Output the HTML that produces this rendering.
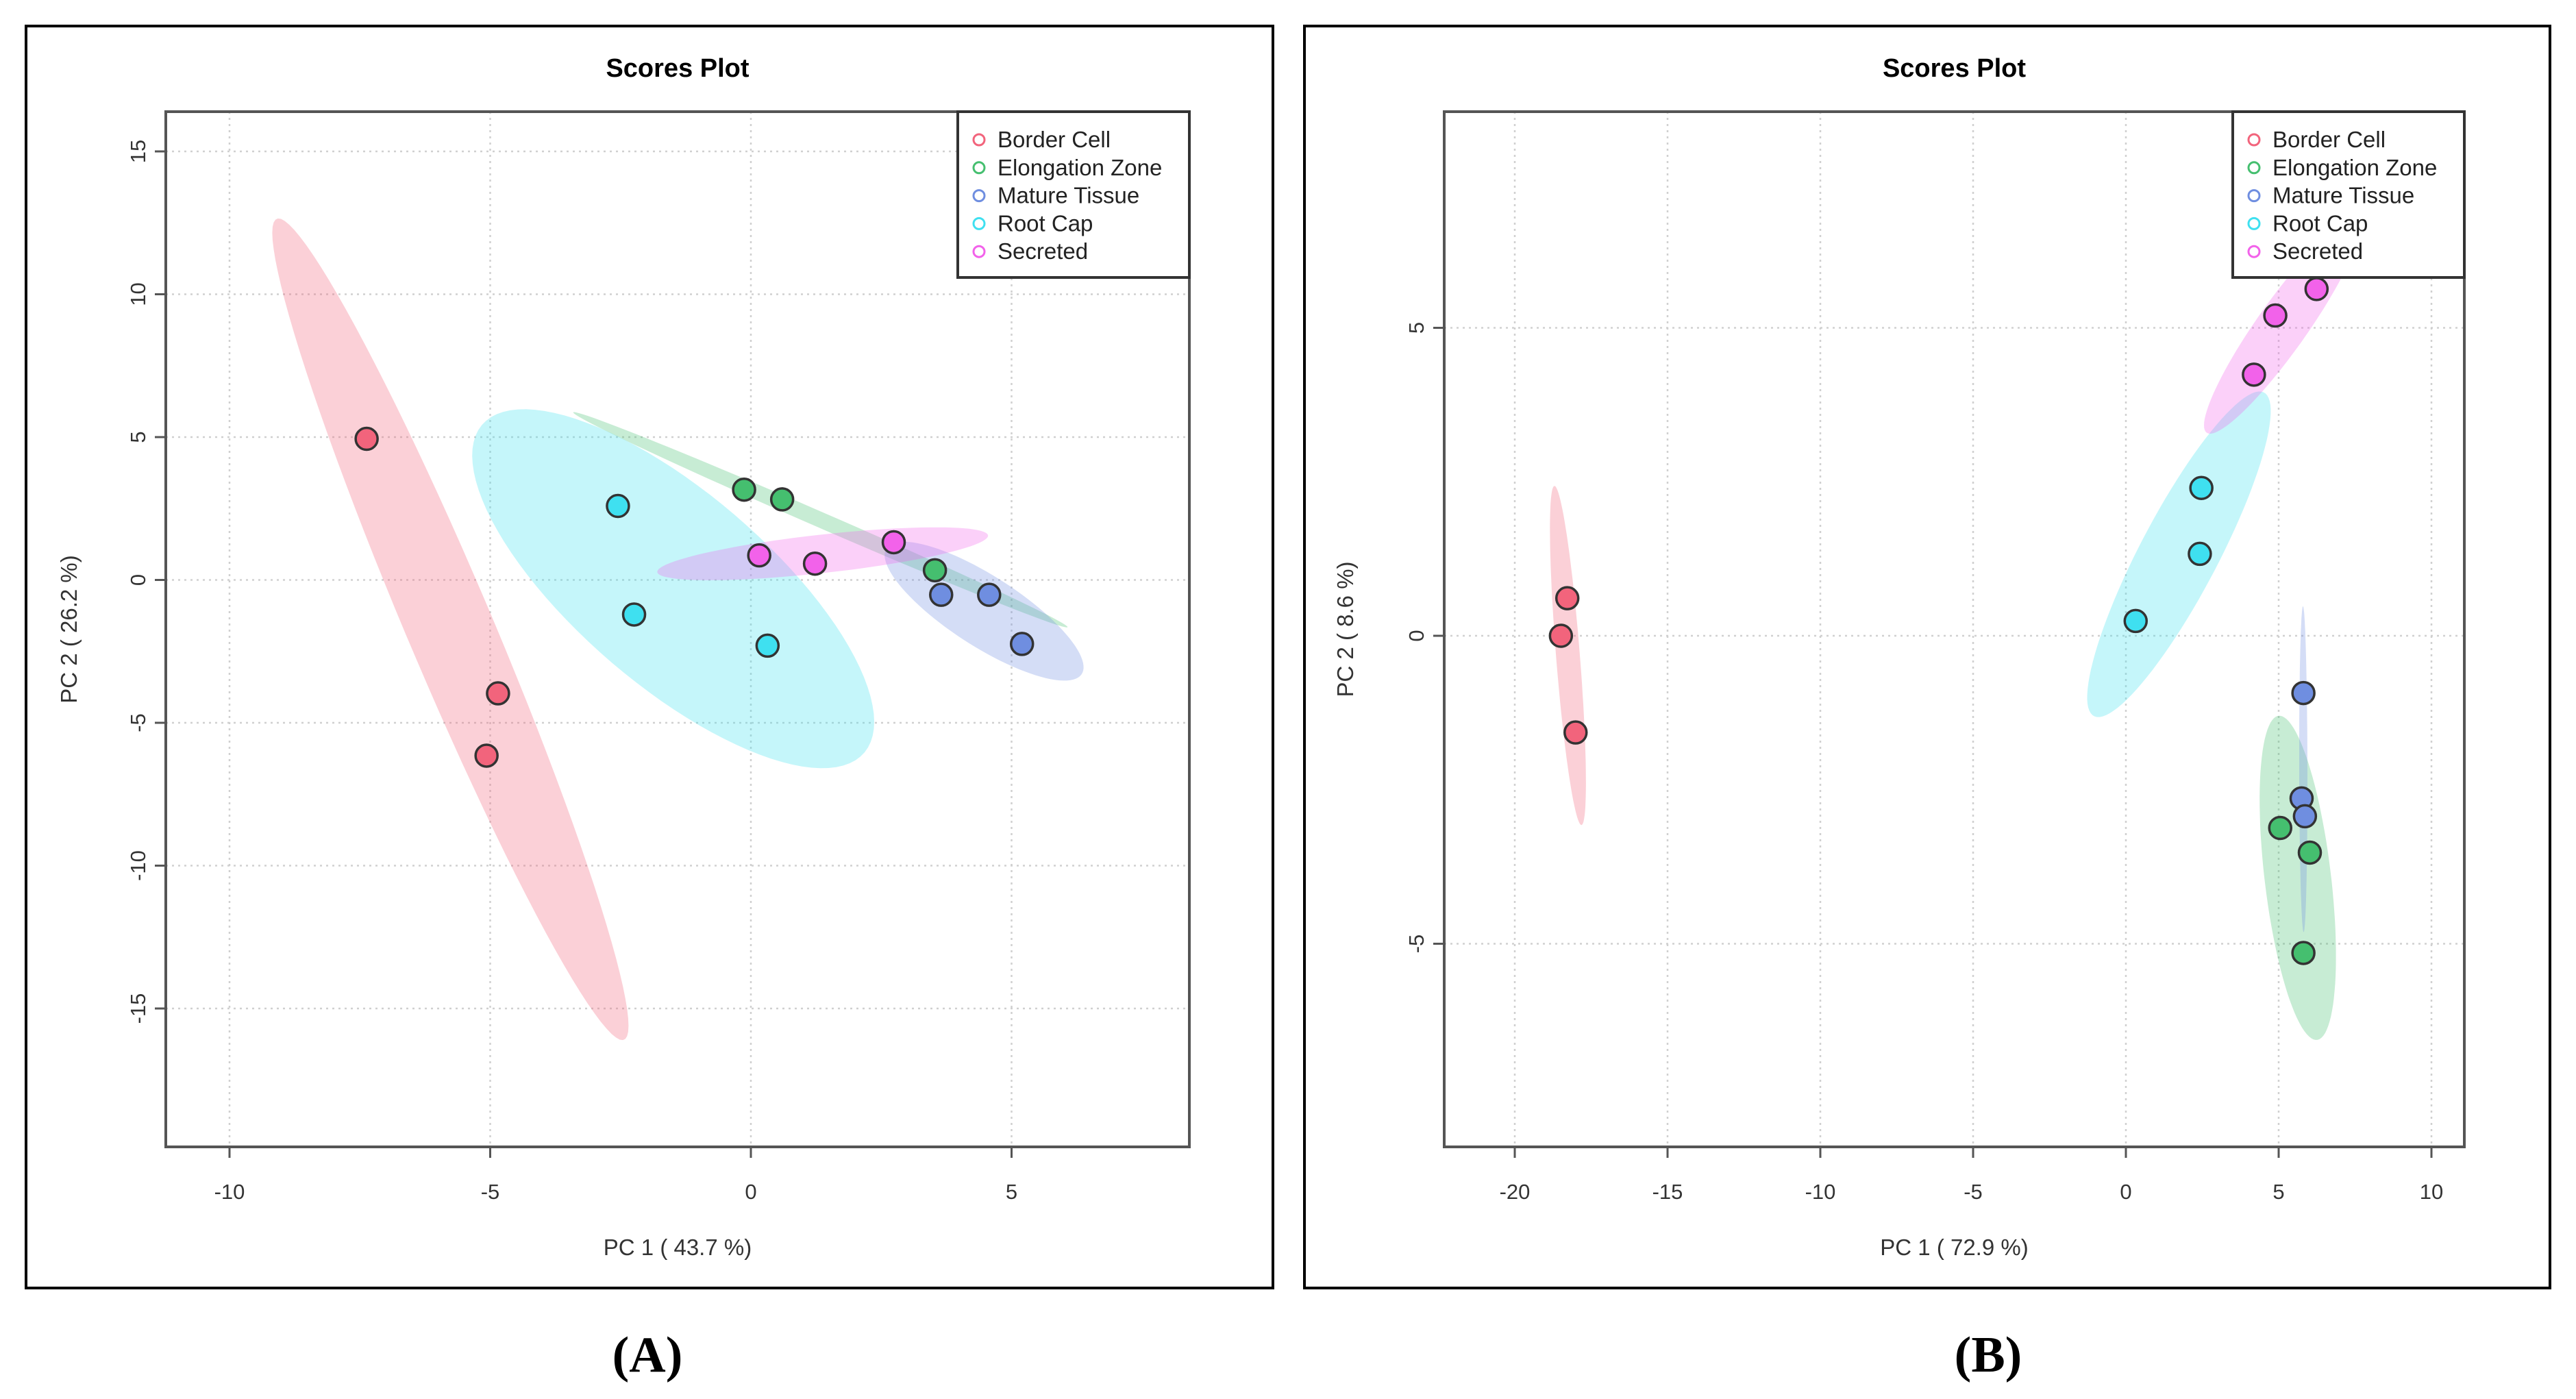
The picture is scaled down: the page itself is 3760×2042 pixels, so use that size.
<!DOCTYPE html>
<html><head><meta charset="utf-8"><style>
html,body{margin:0;padding:0;background:#fff}
svg{display:block}
text{font-family:"Liberation Sans",sans-serif}
text.serif{font-family:"Liberation Serif",serif}
</style></head><body>
<svg id="s" width="3760" height="2042" viewBox="0 0 3760 2042" xmlns="http://www.w3.org/2000/svg"></svg>
<script>
const groups = ["Border Cell","Elongation Zone","Mature Tissue","Root Cap","Secreted"];
const colors = ["#F2647C","#45BF6F","#6F8EE0","#3FE0F0","#F262EA"];
const xTicksA = [-10,-5,0,5];
const yTicksA = [-15,-10,-5,0,5,10,15];
const xTicksB = [-20,-15,-10,-5,0,5,10];
const yTicksB = [-5,0,5];
const ptsAx = [[-7.37,-4.85,-5.07],[-0.13,0.6,3.53],[3.65,4.57,5.2],[-2.55,-2.24,0.32],[0.16,1.23,2.74]];
const ptsAy = [[4.94,-3.97,-6.15],[3.16,2.82,0.34],[-0.52,-0.52,-2.24],[2.59,-1.21,-2.3],[0.86,0.57,1.32]];
const ptsBx = [[-18.28,-18.49,-18.01],[5.05,6.02,5.81],[5.81,5.75,5.86],[0.32,2.42,2.47],[4.19,4.89,6.24]];
const ptsBy = [[0.61,0,-1.57],[-3.12,-3.52,-5.15],[-0.93,-2.64,-2.93],[0.24,1.33,2.4],[4.24,5.2,5.63]];

const NS="http://www.w3.org/2000/svg";
const svg=document.getElementById('s');
function mk(tag,attrs,parent,txt){const e=document.createElementNS(NS,tag);for(const k in attrs)e.setAttribute(k,attrs[k]);if(txt!==undefined)e.textContent=txt;(parent||svg).appendChild(e);return e;}

function panel(cfg){
  const g=mk('g',{});
  
  
  const ob=mk('rect',{x:cfg.ox,y:38,width:cfg.ow,height:1842,fill:'none',stroke:'#000','stroke-width':4},g);
  
  const L=cfg.L,R=cfg.R,T=163,B=1674;
  const sx=v=>cfg.x0+v*cfg.kx, sy=v=>cfg.y0-v*cfg.ky;
  const t=mk('text',{x:(L+R)/2,y:112,'text-anchor':'middle','font-size':38,'font-weight':'bold'},g,'Scores Plot');
  
  const clipId='c'+cfg.name;
  const cp=mk('clipPath',{id:clipId},g);mk('rect',{x:L,y:T,width:R-L,height:B-T},cp);
  const grid=mk('g',{stroke:'#d0d0d0','stroke-width':2.5,'stroke-dasharray':'3,6'},g);
  
  cfg.xt.forEach(v=>mk('line',{x1:sx(v),x2:sx(v),y1:T,y2:B},grid));
  cfg.yt.forEach(v=>mk('line',{x1:L,x2:R,y1:sy(v),y2:sy(v)},grid));
  const eg=mk('g',{'clip-path':'url(#'+clipId+')'},g);
  const r=Math.sqrt(5.991);
  cfg.px.forEach((xs,i)=>{
    const ys=cfg.py[i],n=xs.length;
    const mx=xs.reduce((a,b)=>a+b)/n,my=ys.reduce((a,b)=>a+b)/n;
    let sxx=0,syy=0,sxy=0;
    for(let j=0;j<n;j++){sxx+=(xs[j]-mx)**2;syy+=(ys[j]-my)**2;sxy+=(xs[j]-mx)*(ys[j]-my);}
    sxx/=(n-1);syy/=(n-1);sxy/=(n-1);
    const tr=sxx+syy,det=sxx*syy-sxy*sxy,d=Math.sqrt(Math.max(tr*tr/4-det,0));
    const l1=tr/2+d,l2=Math.max(tr/2-d,0);
    const ang=Math.atan2(l1-sxx,sxy||1e-12);
    const a1=Math.sqrt(l1)*r,a2=Math.sqrt(l2)*r;
    let dstr='';
    for(let k=0;k<=100;k++){const th=k/100*2*Math.PI;
      const ex=a1*Math.cos(th),ey=a2*Math.sin(th);
      const X=mx+ex*Math.cos(ang)-ey*Math.sin(ang),Y=my+ex*Math.sin(ang)+ey*Math.cos(ang);
      dstr+=(k?'L':'M')+sx(X).toFixed(1)+','+sy(Y).toFixed(1);}
    const p=mk('path',{d:dstr+'Z',fill:colors[i],'fill-opacity':0.3,stroke:'none'},eg);
    
    
  });
  cfg.px.forEach((xs,i)=>xs.forEach((x,j)=>{
    const c=mk('circle',{cx:sx(x),cy:sy(cfg.py[i][j]),r:16,fill:colors[i],stroke:'#333','stroke-width':3.5},g);
    
    
  }));
  const pb=mk('rect',{x:L,y:T,width:R-L,height:B-T,fill:'none',stroke:'#555','stroke-width':4},g);
  
  const xa=mk('g',{},g);
  cfg.xt.forEach(v=>{mk('line',{x1:sx(v),x2:sx(v),y1:B,y2:B+16,stroke:'#555','stroke-width':3},xa);
    const tl=mk('text',{x:sx(v),y:1750,'text-anchor':'middle','font-size':31,fill:'#333'},xa,String(v));
    });
  const xt=mk('text',{x:(L+R)/2,y:1832,'text-anchor':'middle','font-size':33,fill:'#333'},g,cfg.xl);
  
  const ya=mk('g',{},g);
  cfg.yt.forEach(v=>{mk('line',{x1:L,x2:L-16,y1:sy(v),y2:sy(v),stroke:'#555','stroke-width':3},ya);
    const tl=mk('text',{x:0,y:0,'text-anchor':'middle','font-size':31,fill:'#333',transform:`translate(${L-30},${sy(v)}) rotate(-90)`},ya,String(v));
    });
  const yt=mk('text',{x:0,y:0,'text-anchor':'middle','font-size':33,fill:'#333',transform:`translate(${cfg.ylx},${(T+B)/2}) rotate(-90)`},g,cfg.yl);
  
  const lg=mk('g',{},g);
  mk('rect',{x:R-338,y:T,width:338,height:242,fill:'#fff',stroke:'#333','stroke-width':4},lg);
  groups.forEach((n,i)=>{const yy=204+i*40.8;
    const e=mk('g',{},lg);
    mk('circle',{cx:R-307,cy:yy,r:8,fill:'none',stroke:colors[i],'stroke-width':3},e);
    mk('text',{x:R-280,y:yy+11,'font-size':33,fill:'#222'},e,n);});
  const pl=mk('text',{x:cfg.lab,y:2002,'text-anchor':'middle','font-size':74,'font-weight':'bold','class':'serif'},svg,cfg.label);
  
}
panel({name:'panel-a',ox:38,ow:1820,L:242,R:1736,x0:1096,kx:76.1,y0:846.5,ky:41.7,xt:xTicksA,yt:yTicksA,px:ptsAx,py:ptsAy,xl:'PC 1 ( 43.7 %)',yl:'PC 2 ( 26.2 %)',ylx:112,label:'(A)',lab:945});
panel({name:'panel-b',ox:1904,ow:1818,L:2108,R:3597,x0:3103,kx:44.6,y0:928,ky:89.9,xt:xTicksB,yt:yTicksB,px:ptsBx,py:ptsBy,xl:'PC 1 ( 72.9 %)',yl:'PC 2 ( 8.6 %)',ylx:1975,label:'(B)',lab:2902});
</script>
</body></html>
